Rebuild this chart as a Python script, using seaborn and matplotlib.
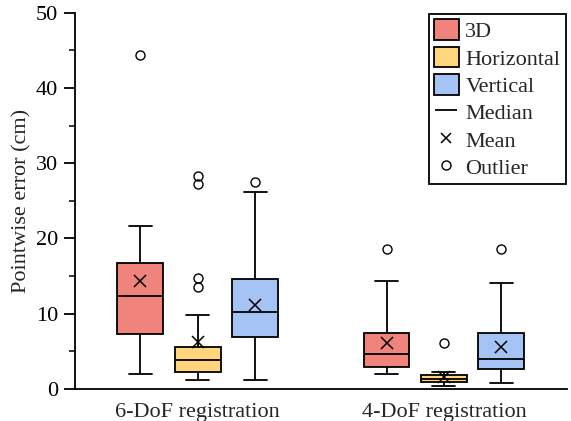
import matplotlib
matplotlib.use("Agg")
import matplotlib.pyplot as plt
import seaborn as sns
import pandas as pd
from matplotlib.patches import Patch
from matplotlib.lines import Line2D
from matplotlib.ticker import MultipleLocator

# pointwise errors (cm), estimated from the boxes
dof6_3d = [2.0, 3.0, 7.3, 8.5, 12.4, 13.1, 16.7, 21.7, 44.4]
dof6_hor = [1.2, 1.4, 1.6, 1.8, 1.9, 2.1, 2.2, 2.3, 2.6, 2.9, 3.1, 3.3, 3.5, 3.7, 3.9,
            4.2, 4.5, 4.8, 5.0, 5.2, 5.4, 5.6, 7.6, 9.1, 9.8, 13.5, 14.7, 27.2, 28.3]
dof6_ver = [1.2, 1.8, 3.5, 6.85, 7.2, 8.2, 10.2, 10.5, 11.5, 14.6, 15.8, 26.2, 27.5]
dof4_3d = [2.0, 2.2, 2.4, 2.7, 2.9, 3.3, 3.8, 4.3, 4.7, 5.4, 6.1, 6.9, 7.5, 7.9, 8.4, 14.3, 18.6]
dof4_hor = [0.44, 0.6, 0.7, 0.8, 0.9, 0.93, 1.05, 1.15, 1.25, 1.3, 1.35, 1.5, 1.6, 1.7,
            1.8, 1.82, 2.0, 2.1, 2.2, 2.22, 6.08]
dof4_ver = [0.8, 1.0, 1.5, 2.2, 2.7, 2.9, 3.2, 3.6, 4.0, 4.3, 4.8, 5.5, 7.5, 8.0, 9.5, 14.1, 18.6]

groups = ["6-DoF registration", "4-DoF registration"]
kinds = ["3D", "Horizontal", "Vertical"]
colors = ["#F0837C", "#FFD57E", "#A6C3F5"]

series = {
    ("6-DoF registration", "3D"): dof6_3d,
    ("6-DoF registration", "Horizontal"): dof6_hor,
    ("6-DoF registration", "Vertical"): dof6_ver,
    ("4-DoF registration", "3D"): dof4_3d,
    ("4-DoF registration", "Horizontal"): dof4_hor,
    ("4-DoF registration", "Vertical"): dof4_ver,
}
rows = []
for (g, k), vals in series.items():
    for v in vals:
        rows.append({"reg": g, "kind": k, "err": v})
df = pd.DataFrame(rows)

sns.set_style("ticks")
plt.rcParams["font.family"] = ["Liberation Serif", "DejaVu Serif"]
plt.rcParams["font.size"] = 16

fig, ax = plt.subplots(figsize=(5.71, 4.21), dpi=100)
fig.subplots_adjust(left=0.131, right=0.993, bottom=0.076, top=0.970)

sns.boxplot(data=df, x="reg", y="err", hue="kind", order=groups, hue_order=kinds,
            palette=colors, saturation=1, width=0.7, gap=0.2, linecolor="black",
            linewidth=1.3, showmeans=True, legend=False, ax=ax,
            meanprops=dict(marker="x", markeredgecolor="black", markersize=9,
                           markeredgewidth=1.1),
            flierprops=dict(marker="o", markerfacecolor="none",
                            markeredgecolor="black", markeredgewidth=1.0),
            fliersize=6.5)

ax.set_ylim(0, 50)
ax.set_xlim(-0.5, 1.5)
ax.yaxis.set_major_locator(MultipleLocator(10))
ax.yaxis.set_minor_locator(MultipleLocator(5))
ax.tick_params(axis="y", which="major", length=8, width=1.3, pad=4, colors="black")
ax.tick_params(axis="y", which="minor", length=4, width=1.3)
ax.tick_params(axis="x", length=0, pad=10)
ax.set_xlabel("")
ax.set_ylabel("Pointwise error (cm)", labelpad=3)
for s in ["top", "right"]:
    ax.spines[s].set_visible(False)
for s in ["left", "bottom"]:
    ax.spines[s].set_linewidth(1.3)
    ax.spines[s].set_color("black")

handles = [Patch(facecolor=c, edgecolor="black", linewidth=1.3) for c in colors]
handles += [
    Line2D([], [], marker="_", markersize=16, markeredgewidth=1.3, color="black", linestyle="none"),
    Line2D([], [], marker="x", markersize=7, markeredgewidth=1.1, color="black", linestyle="none"),
    Line2D([], [], marker="o", markersize=6.5, markerfacecolor="none", markeredgecolor="black",
           markeredgewidth=1.0, linestyle="none"),
]
labels = kinds + ["Median", "Mean", "Outlier"]
leg = ax.legend(handles, labels, loc="upper right", fontsize=16, frameon=True,
                fancybox=False, framealpha=1, edgecolor="black", borderaxespad=0.05,
                handlelength=1.1, handleheight=1.05, handletextpad=0.3,
                labelspacing=0.2, borderpad=0.25)
leg.get_frame().set_linewidth(1.3)

fig.savefig("out.png", dpi=100)
